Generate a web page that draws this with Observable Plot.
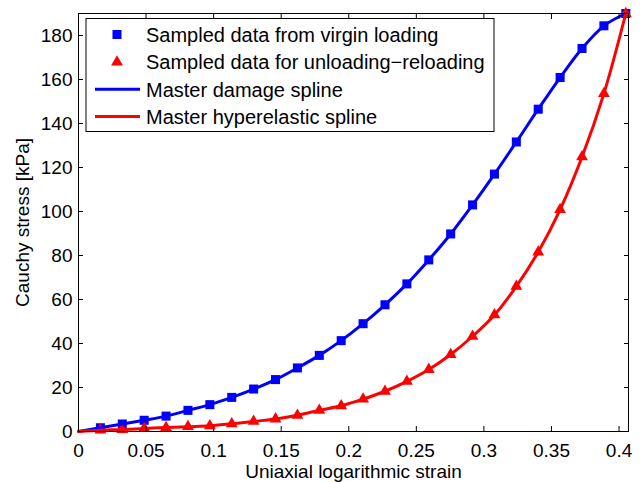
<!DOCTYPE html>
<html>
<head>
<meta charset="utf-8">
<script src="https://cdn.jsdelivr.net/npm/d3@7"></script>
<script src="https://cdn.jsdelivr.net/npm/@observablehq/plot@0.6"></script>
<style>
  html, body { margin: 0; padding: 0; background: white; }
</style>
</head>
<body>
<div id="chart"></div>
<script>
// ---- data ----
const strain = [0, 0.0162, 0.0324, 0.0486, 0.0648, 0.081, 0.0972, 0.1134, 0.1296, 0.1458,
  0.162, 0.1782, 0.1944, 0.2106, 0.2268, 0.243, 0.2592, 0.2754, 0.2916, 0.3078,
  0.324, 0.3402, 0.3564, 0.3726, 0.3888, 0.405];
const virginStress = [0, 1.7, 3.4, 5.1, 7.0, 9.6, 12.2, 15.5, 19.3, 23.6,
  28.9, 34.6, 41.3, 49.0, 57.6, 67.1, 78.0, 89.8, 103.0, 117.0,
  131.6, 146.5, 160.9, 174.1, 184.4, 190];
const unloadStress = [0, 0.6, 0.9, 1.4, 1.8, 2.2, 2.6, 3.5, 4.6, 5.7,
  7.4, 9.6, 11.7, 14.7, 18.3, 22.8, 28.2, 35.0, 43.3, 53.0,
  66.0, 81.6, 100.9, 124.8, 153.6, 190];
const xTicks = [0, 0.05, 0.1, 0.15, 0.2, 0.25, 0.3, 0.35, 0.4];
const yTicks = [0, 20, 40, 60, 80, 100, 120, 140, 160, 180];
const legendLabels = [
  "Sampled data from virgin loading",
  "Sampled data for unloading\u2212reloading",
  "Master damage spline",
  "Master hyperelastic spline"
];
const xLabel = "Uniaxial logarithmic strain";
const yLabel = "Cauchy stress [kPa]";

const virgin = strain.map((s, i) => ({x: s, y: virginStress[i]}));
const unload = strain.map((s, i) => ({x: s, y: unloadStress[i]}));

const BLUE = "#0000ff", RED = "#ff0000";
const FONT = "'Liberation Sans', Arial, Helvetica, sans-serif";

const svg = Plot.plot({
  width: 644,
  height: 482,
  marginLeft: 78,
  marginRight: 16,
  marginTop: 13,
  marginBottom: 51,
  style: {fontSize: "19px", fontFamily: FONT, background: "white", color: "black"},
  x: {domain: [0, 0.407]},
  y: {domain: [0, 190]},
  marks: [
    Plot.dot(virgin.slice(1), {x: "x", y: "y", symbol: "square", r: 5.1, fill: BLUE, stroke: "none"}),
    Plot.dot(unload.slice(1), {x: "x", y: "y", symbol: "triangle", r: 4.4, fill: RED, stroke: "none"}),
    Plot.line(virgin, {x: "x", y: "y", curve: "catmull-rom", stroke: BLUE, strokeWidth: 3}),
    Plot.line(unload, {x: "x", y: "y", curve: "catmull-rom", stroke: RED, strokeWidth: 3}),
    Plot.axisX({ticks: xTicks, tickSize: -5, tickPadding: 17, tickFormat: d => String(d),
      label: xLabel, labelAnchor: "center", labelArrow: "none", labelOffset: 46, fontSize: 19}),
    Plot.axisX({anchor: "top", ticks: xTicks, tickSize: -5, tickFormat: () => "", label: null}),
    Plot.axisY({ticks: yTicks, tickSize: -5, tickPadding: 11, tickFormat: d => String(d),
      label: yLabel, labelAnchor: "center", labelArrow: "none", labelOffset: 63, fontSize: 19}),
    Plot.axisY({anchor: "right", ticks: yTicks, tickSize: -5, tickFormat: () => "", label: null}),
    Plot.frame({stroke: "black", strokeWidth: 1})
  ]
});

// ---- legend (inside plot area, top-left) ----
const s = d3.select(svg);
const lg = s.append("g").attr("font-family", FONT).attr("font-size", 20).attr("text-anchor", "start");
lg.append("rect").attr("x", 86).attr("y", 18.5).attr("width", 408).attr("height", 113)
  .attr("fill", "white").attr("stroke", "black").attr("stroke-width", 1);
const rowY = [34.5, 62, 89.3, 116.5];
const sq = d3.symbol(d3.symbolSquare, Math.PI * 5.1 * 5.1)();
const tri = d3.symbol(d3.symbolTriangle, Math.PI * 4.4 * 4.4)();
lg.append("path").attr("d", sq).attr("fill", BLUE).attr("transform", `translate(117,${rowY[0]})`);
lg.append("path").attr("d", tri).attr("fill", RED).attr("transform", `translate(117,${rowY[1]})`);
lg.append("line").attr("x1", 95).attr("x2", 140).attr("y1", rowY[2]).attr("y2", rowY[2])
  .attr("stroke", BLUE).attr("stroke-width", 3);
lg.append("line").attr("x1", 95).attr("x2", 140).attr("y1", rowY[3]).attr("y2", rowY[3])
  .attr("stroke", RED).attr("stroke-width", 3);
legendLabels.forEach((t, i) => {
  lg.append("text").attr("x", 146).attr("y", rowY[i]).attr("dy", "0.36em")
    .attr("text-anchor", "start").attr("fill", "black").text(t);
});

document.getElementById("chart").appendChild(svg);
</script>
</body>
</html>
